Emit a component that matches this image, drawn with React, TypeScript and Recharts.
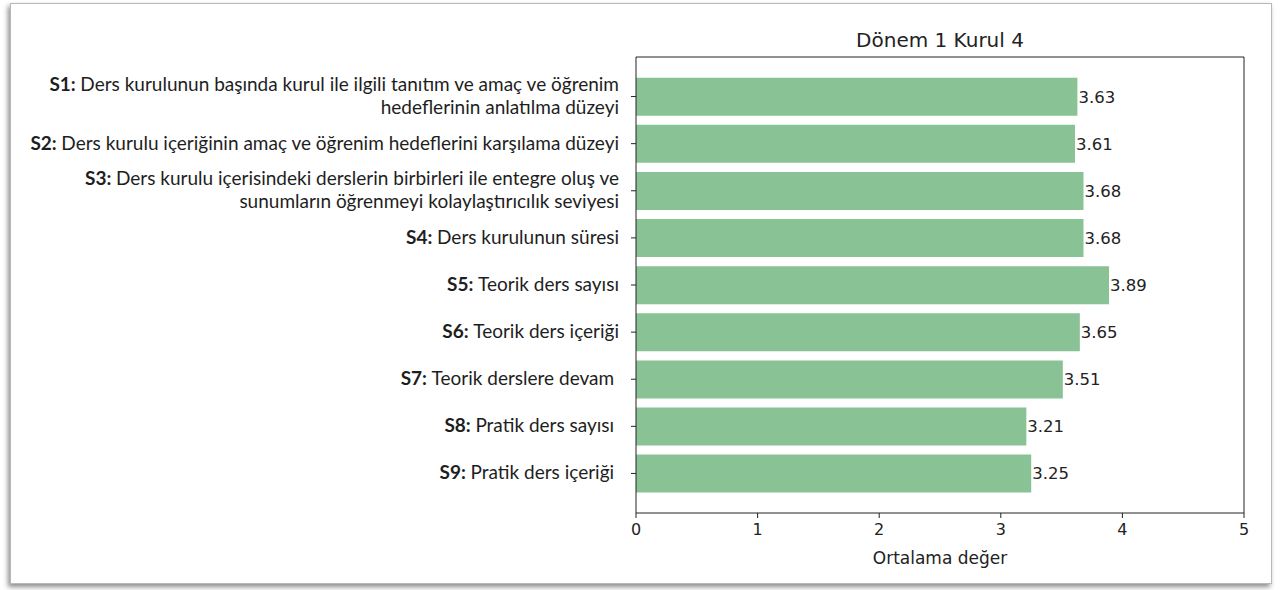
import React from 'react';
import { BarChart, Bar, XAxis, YAxis, LabelList } from 'recharts';

const codes = ['S1', 'S2', 'S3', 'S4', 'S5', 'S6', 'S7', 'S8', 'S9'];
const questionLines = [
  ['Ders kurulunun başında kurul ile ilgili tanıtım ve amaç ve öğrenim', 'hedeflerinin anlatılma düzeyi'],
  ['Ders kurulu içeriğinin amaç ve öğrenim hedeflerini karşılama düzeyi'],
  ['Ders kurulu içerisindeki derslerin birbirleri ile entegre oluş ve', 'sunumların öğrenmeyi kolaylaştırıcılık seviyesi'],
  ['Ders kurulunun süresi'],
  ['Teorik ders sayısı'],
  ['Teorik ders içeriği'],
  ['Teorik derslere devam '],
  ['Pratik ders sayısı '],
  ['Pratik ders içeriği '],
];
const meanValues = [3.63, 3.61, 3.68, 3.68, 3.89, 3.65, 3.51, 3.21, 3.25];
const xTicks = [0, 1, 2, 3, 4, 5];

const chartTitle = 'Dönem 1 Kurul 4';
const xLabel = 'Ortalama değer';

const data = codes.map((c, i) => ({ code: c, value: meanValues[i] }));

const labelFont = 'Lato, "Open Sans", sans-serif';
const mplFont = '"DejaVu Sans", sans-serif';

const QuestionTick = (props: any) => {
  const { x, y, payload } = props;
  const idx = codes.indexOf(payload.value);
  const lines = questionLines[idx] || [];
  const lh = 23;
  const start = y - ((lines.length - 1) * lh) / 2 - 2;
  return (
    <g>
      {lines.map((ln, i) => (
        <text
          key={i}
          x={x - 10}
          y={start + i * lh}
          textAnchor="end"
          dominantBaseline="central"
          fontFamily={labelFont}
          fontSize={19}
          fill="#1e1e1e"
          style={{ whiteSpace: 'pre' }}
        >
          {i === 0 && <tspan fontWeight={700}>{payload.value + ': '}</tspan>}
          <tspan>{ln}</tspan>
        </text>
      ))}
    </g>
  );
};

export default function App() {
  return (
    <div style={{ position: 'absolute', left: 0, top: 0, width: 1280, height: 590, background: '#fff' }}>
      <div
        style={{
          position: 'absolute',
          left: 10,
          top: 3,
          width: 1260,
          height: 579,
          border: '1px solid #b8b8b8',
          boxShadow: '-2px 3px 5px rgba(0,0,0,0.45)',
          background: '#fff',
        }}
      />
      <div style={{ position: 'absolute', left: 0, top: 0 }}>
        <BarChart
          width={1280}
          height={590}
          data={data}
          layout="vertical"
          margin={{ top: 56, right: 35, bottom: 0, left: 0 }}
          barCategoryGap="10%"
        >
          <XAxis
            type="number"
            domain={[0, 5]}
            ticks={xTicks}
            interval={0}
            axisLine={{ stroke: '#222' }}
            tickLine={{ stroke: '#222' }}
            tickSize={5}
            tickMargin={6}
            tick={{ fill: '#222', fontSize: 16, fontFamily: mplFont }}
            height={77}
            label={{ value: xLabel, position: 'insideBottom', offset: 26, fill: '#222', fontSize: 17, fontFamily: mplFont }}
          />
          <XAxis xAxisId="top" orientation="top" type="number" domain={[0, 5]} tick={false} tickLine={false} axisLine={{ stroke: '#222' }} height={1} />
          <YAxis
            type="category"
            dataKey="code"
            width={636}
            padding={{ top: 16, bottom: 16 }}
            axisLine={{ stroke: '#222' }}
            tickLine={{ stroke: '#222' }}
            tickSize={5}
            tick={<QuestionTick />}
            interval={0}
          />
          <YAxis yAxisId="r" orientation="right" type="category" dataKey="code" tick={false} tickLine={false} axisLine={{ stroke: '#222' }} width={1} />
          <Bar dataKey="value" fill="#89c294" isAnimationActive={false}>
            <LabelList dataKey="value" position="right" offset={1} fill="#222" fontSize={16.5} fontFamily={mplFont} formatter={(v: any) => Number(v).toFixed(2)} />
          </Bar>
          <text x={940} y={40} textAnchor="middle" dominantBaseline="central" fontFamily={mplFont} fontSize={20} fill="#222">
            {chartTitle}
          </text>
        </BarChart>
      </div>
    </div>
  );
}
